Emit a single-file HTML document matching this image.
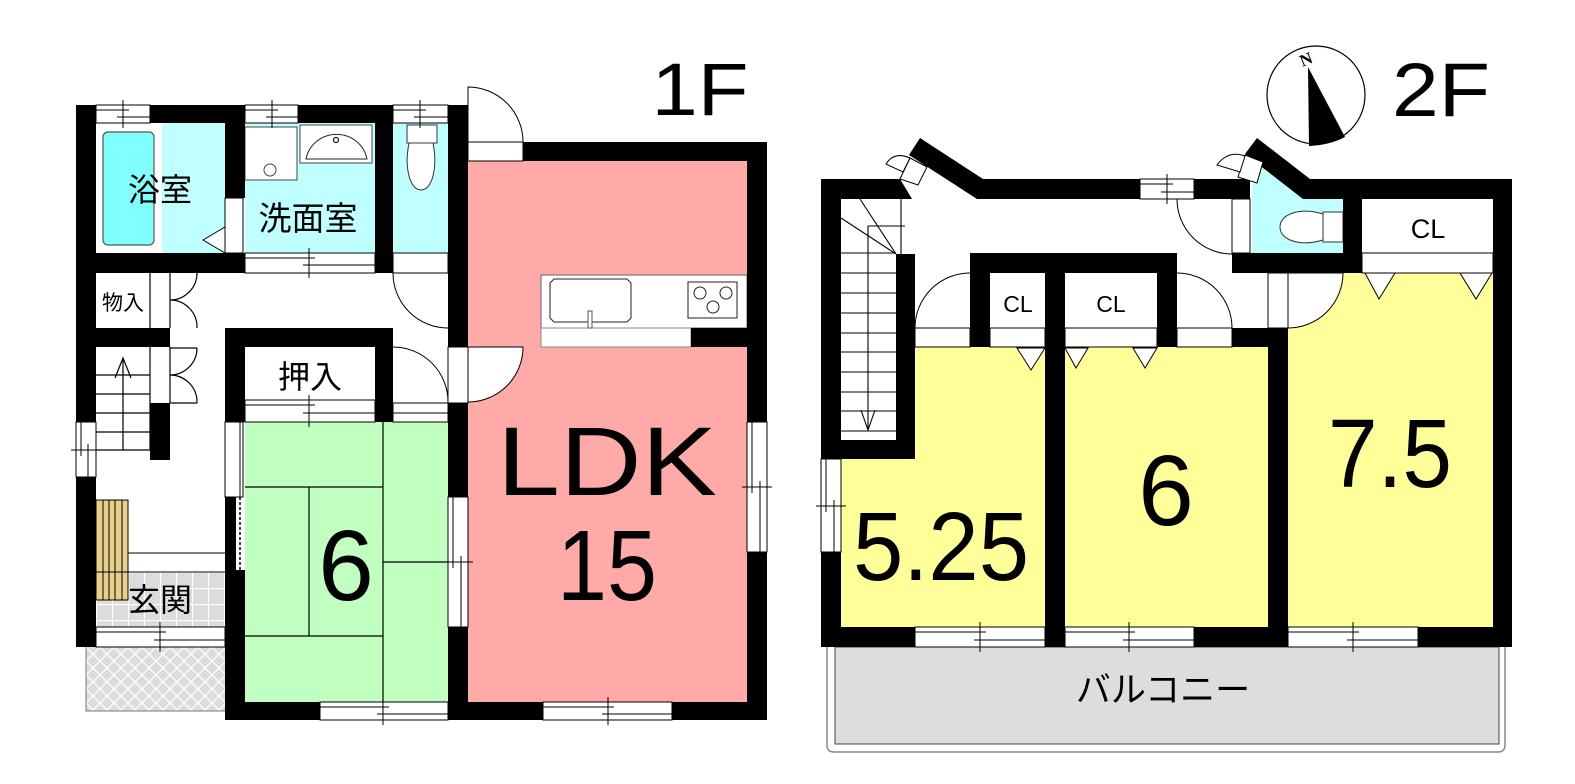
<!DOCTYPE html>
<html><head><meta charset="utf-8">
<style>
html,body{margin:0;padding:0;background:#fff;}
svg{display:block;}
text{font-family:"Liberation Sans","Noto Sans CJK JP",sans-serif;fill:#000;}
</style></head><body>
<svg width="1575" height="784" viewBox="0 0 1575 784" xmlns="http://www.w3.org/2000/svg">
<defs>
<pattern id="tile" x="96" y="572" width="16" height="16" patternUnits="userSpaceOnUse">
<rect width="16" height="16" fill="#dcdcdc"/>
<path d="M0 0.5H16M0.5 0V16" stroke="#fff" stroke-width="1.3"/>
</pattern>
<pattern id="hatch" x="86" y="647" width="14" height="14" patternUnits="userSpaceOnUse">
<rect width="14" height="14" fill="#dcdcdc"/>
<path d="M0 0L14 14M14 0L0 14" stroke="#fff" stroke-width="1.3"/>
</pattern>
</defs>

<!-- ================= 1F FILLS ================= -->
<rect x="162" y="123" width="63" height="130" fill="#c0ffff"/>
<rect x="103" y="132" width="51" height="113" rx="5" fill="#80ffff" stroke="#555" stroke-width="1.2"/>
<rect x="245" y="123" width="130" height="130" fill="#c0ffff"/>
<rect x="393" y="123" width="55" height="130" fill="#c0ffff"/>
<rect x="468" y="161" width="279" height="541" fill="#ffa9a9"/>
<rect x="245" y="422" width="203" height="280" fill="#c0ffc0"/>
<rect x="96" y="572" width="129" height="55" fill="url(#tile)"/>
<rect x="86" y="647" width="139" height="64" fill="url(#hatch)"/>
<path d="M86 647V711H225" fill="none" stroke="#777" stroke-width="1"/>

<!-- washroom fixtures -->
<rect x="245" y="127" width="52" height="53" fill="#fff" stroke="#444" stroke-width="1"/>
<circle cx="270" cy="170" r="6" fill="#fff" stroke="#444" stroke-width="1"/>
<rect x="300" y="125" width="72" height="38" fill="#fff" stroke="#444" stroke-width="1"/>
<path d="M306 159A31 30 0 0 1 367 159Z" fill="#fff" stroke="#222" stroke-width="1"/>
<circle cx="336" cy="140" r="2.5" fill="#fff" stroke="#222" stroke-width="1.3"/>
<!-- toilet 1F -->
<rect x="407" y="125" width="30" height="18" fill="#fff" stroke="#333" stroke-width="1"/>
<path d="M409 143C404 168 410 190 421 190C432 190 438 168 433 143Z" fill="#fff" stroke="#333" stroke-width="1"/>

<!-- kitchen -->
<rect x="541" y="275" width="206" height="53" fill="#fff" stroke="#666" stroke-width="1"/>
<rect x="541" y="328" width="150" height="19" fill="#fff" stroke="#888" stroke-width="1"/>
<path d="M554 279H627L631 283V318L627 322H554L550 318V283Z" fill="#fff" stroke="#222" stroke-width="1"/>
<rect x="588" y="311" width="4" height="17" fill="#fff" stroke="#555" stroke-width="1"/>
<rect x="688" y="282" width="49" height="36" fill="#fff" stroke="#222" stroke-width="1"/>
<circle cx="700" cy="293" r="6" fill="#fff" stroke="#222" stroke-width="1"/>
<circle cx="726" cy="293" r="6" fill="#fff" stroke="#222" stroke-width="1"/>
<circle cx="713" cy="307" r="6" fill="#fff" stroke="#222" stroke-width="1"/>

<!-- tatami lines -->
<g stroke="#000" stroke-width="1.2" fill="none">
<path d="M245 487H383M383 422V702M309 487V636M245 636H383M383 562H448"/>
</g>

<!-- getabako -->
<rect x="96" y="500" width="32" height="100" fill="#e8d08c" stroke="#000" stroke-width="1"/>
<path d="M103 500V600M109 500V600M115 500V600M122 500V600" stroke="#000" stroke-width="1"/>
<path d="M128 553H225M96 572H225" stroke="#000" stroke-width="1"/>

<!-- 1F stairs -->
<g stroke="#000" stroke-width="1.2" fill="none">
<path d="M96 375H150M96 394H150M96 413H150M96 432H150M96 450H150"/>
<path d="M123 358V450M115 378L123 358L131 378"/>
<path d="M150 347V450M170 347V403M150 273V328M170 273V328"/>
<path d="M170 348H197M170 403H197"/>
<path d="M197 273A27 27 0 0 1 170 300M170 300A27 27 0 0 1 197 328"/>
<path d="M197 348A27 27 0 0 1 170 375M170 375A27 27 0 0 1 197 403"/>
</g>

<!-- ================= 1F WALLS ================= -->
<g fill="#000">
<rect x="76" y="105" width="392" height="18"/>
<rect x="76" y="105" width="20" height="542"/>
<rect x="225" y="105" width="20" height="93"/>
<rect x="76" y="253" width="169" height="20"/>
<rect x="375" y="105" width="18" height="168"/>
<rect x="448" y="105" width="20" height="242"/>
<rect x="448" y="403" width="20" height="317"/>
<rect x="523" y="142" width="244" height="19"/>
<rect x="747" y="142" width="20" height="578"/>
<rect x="225" y="702" width="542" height="18"/>
<rect x="225" y="328" width="20" height="94"/>
<rect x="225" y="497" width="11" height="73"/>
<rect x="225" y="570" width="20" height="150"/>
<rect x="225" y="328" width="168" height="19"/>
<rect x="375" y="328" width="18" height="94"/>
<rect x="76" y="328" width="94" height="19"/>
<rect x="150" y="403" width="20" height="57"/>
<rect x="691" y="328" width="76" height="19"/>
</g>
<path d="M240 497V570" stroke="#000" stroke-width="1.5" stroke-dasharray="3 2"/>

<!-- 1F openings / doors -->
<g stroke="#000" stroke-width="1" fill="#fff">
<rect x="225" y="198" width="18" height="55"/>
<path d="M203 240L225 227V253Z"/>
<rect x="393" y="253" width="55" height="20"/>
<rect x="225" y="422" width="18" height="75"/>
<rect x="393" y="403" width="55" height="19"/>
<rect x="448" y="347" width="20" height="56"/>
<rect x="468" y="142" width="55" height="19"/>
<path d="M468 142V87A55 55 0 0 1 523 142Z"/>
<path d="M468 347H523A55 55 0 0 1 468 402Z"/>
</g>
<g stroke="#000" stroke-width="1" fill="none">
<path d="M240 422V497M393 413H448"/>
<path d="M393 273A55 55 0 0 0 448 328"/>
<path d="M393 347A55 55 0 0 1 448 403"/>
</g>

<!-- 1F windows (horizontal) -->
<g stroke="#000" stroke-width="1" fill="#fff">
<rect x="96" y="105" width="54" height="18"/><path d="M96 110H129M117 117H150M123 100V128" fill="none"/>
<rect x="245" y="105" width="53" height="18"/><path d="M245 110H278M266 117H298M272 100V128" fill="none"/>
<rect x="393" y="105" width="55" height="18"/><path d="M393 110H426M414 117H448M420 100V128" fill="none"/>
<rect x="245" y="253" width="130" height="20"/><path d="M245 258H315M303 265H375M309 248V278" fill="none"/>
<rect x="245" y="400" width="130" height="22"/><path d="M245 405H315M303 413H375M309 395V427" fill="none"/>
<rect x="320" y="702" width="128" height="18"/><path d="M320 707H389M377 714H448M383 697V725" fill="none"/>
<rect x="543" y="702" width="129" height="18"/><path d="M543 707H614M602 714H672M608 697V725" fill="none"/>
<rect x="96" y="627" width="129" height="20"/><path d="M96 632H166M154 640H225M160 622V652" fill="none"/>
<!-- vertical windows -->
<rect x="76" y="422" width="20" height="55"/><path d="M81 422V456M88 444V477M71 450H101" fill="none"/>
<rect x="747" y="422" width="20" height="130"/><path d="M752 422V493M760 481V552M742 487H772" fill="none"/>
<rect x="448" y="497" width="20" height="130"/><path d="M453 497V568M461 556V627M443 562H473" fill="none"/>
</g>

<!-- ================= 2F FILLS ================= -->
<path d="M915 347H1045V627H841V459H915Z" fill="#ffff99"/>
<rect x="1065" y="347" width="203" height="280" fill="#ffff99"/>
<rect x="1288" y="273" width="205" height="354" fill="#ffff99"/>
<path d="M1252 253V187L1262 168L1303 199H1343V253Z" fill="#c0ffff"/>
<!-- balcony -->
<path d="M827 647V745Q827 752 834 752H1498Q1505 752 1505 745V647" fill="none" stroke="#888" stroke-width="1.5"/>
<rect x="835" y="647" width="664" height="97" fill="#dddddd" stroke="#444" stroke-width="1"/>

<!-- 2F stairs -->
<g stroke="#000" stroke-width="1.1" fill="none">
<path d="M841 253H896M841 273H896M841 293H896M841 313H896M841 333H896M841 352H896M841 372H896M841 392H896M841 411H896M841 431H896"/>
<path d="M860 199L896 254M841 218L896 254M901 199V254M868 226H905M868 226V430M861 410L868 430L875 410"/>
</g>

<!-- closets interior lines -->
<g stroke="#000" stroke-width="1" fill="#fff">
<rect x="990" y="328" width="55" height="19"/>
<rect x="1065" y="328" width="92" height="19"/>
<rect x="1362" y="253" width="131" height="20"/>
<rect x="915" y="328" width="55" height="19"/>
<rect x="1177" y="328" width="55" height="19"/>
<rect x="1232" y="199" width="18" height="54"/>
<rect x="1268" y="273" width="20" height="55"/>
<path d="M1288 273H1343A55 55 0 0 1 1288 328Z"/>
<path d="M1017 348H1045L1031 370Z"/>
<path d="M1065 348H1088L1076 368Z"/>
<path d="M1133 348H1157L1145 368Z"/>
<path d="M1365 273H1395L1379 299Z"/>
<path d="M1460 273H1492L1476 299Z"/>
</g>
<g stroke="#000" stroke-width="1" fill="none">
<path d="M915 328A55 55 0 0 1 970 273"/>
<path d="M1177 273A55 55 0 0 1 1232 328"/>
<path d="M1177 199A55 55 0 0 0 1232 254"/>
</g>

<!-- toilet 2F -->
<rect x="1323" y="212" width="20" height="30" fill="#fff" stroke="#333" stroke-width="1"/>
<path d="M1323 214C1300 207 1280 214 1280 227C1280 240 1300 247 1323 240Z" fill="#fff" stroke="#333" stroke-width="1"/>

<!-- ================= 2F WALLS ================= -->
<g fill="#000">
<rect x="821" y="179" width="20" height="468"/>
<path d="M821 179H900L912 199H821Z"/>
<path d="M920 138L983 179H1140V199H977L909 155Z"/>
<rect x="1194" y="179" width="56" height="20"/>
<path d="M1257 138L1310 179H1512V199H1303L1245 154Z"/>
<rect x="1493" y="179" width="19" height="468"/>
<rect x="821" y="627" width="691" height="20"/>
<rect x="896" y="254" width="19" height="205"/>
<rect x="821" y="440" width="94" height="19"/>
<rect x="970" y="253" width="207" height="20"/>
<rect x="970" y="253" width="20" height="94"/>
<rect x="1045" y="253" width="20" height="394"/>
<rect x="1157" y="253" width="20" height="94"/>
<rect x="1232" y="328" width="56" height="19"/>
<rect x="1268" y="328" width="20" height="319"/>
<rect x="1232" y="253" width="130" height="20"/>
<rect x="1343" y="179" width="19" height="94"/>
</g>

<!-- entry doors 2F -->
<g stroke="#000" stroke-width="1" fill="#fff">
<path d="M910 158L927 167L918 185L900 179Z"/>
<path d="M886 164Q894 151 910 158L903 172Z"/>
<path d="M1245 155L1263 162L1257 183L1238 177Z"/>
<path d="M1217 165Q1228 150 1245 156L1240 172Z"/>
</g>

<!-- 2F windows -->
<g stroke="#000" stroke-width="1" fill="#fff">
<rect x="1140" y="179" width="54" height="20"/><path d="M1140 184H1173M1161 192H1194M1167 174V204" fill="none"/>
<rect x="915" y="627" width="130" height="20"/><path d="M915 632H986M974 640H1045M980 622V652" fill="none"/>
<rect x="1065" y="627" width="129" height="20"/><path d="M1065 632H1135M1123 640H1194M1129 622V652" fill="none"/>
<rect x="1288" y="627" width="130" height="20"/><path d="M1288 632H1359M1347 640H1418M1353 622V652" fill="none"/>
<rect x="821" y="459" width="20" height="93"/><path d="M826 459V512M834 500V552M816 506H846" fill="none"/>
</g>

<!-- compass -->
<circle cx="1316" cy="95" r="49" fill="#fff" stroke="#000" stroke-width="1.2"/>
<path d="M1308 67L1345 137Q1330 145 1309 146Z" fill="#000"/>
<text x="1306" y="65" font-family="Liberation Serif" font-weight="bold" font-size="17" text-anchor="middle" transform="rotate(-22 1306 59)" style="font-family:'Liberation Serif',serif">N</text>

<!-- ================= LABELS ================= -->
<text x="700" y="115" font-size="74" text-anchor="middle" textLength="97" lengthAdjust="spacingAndGlyphs">1F</text>
<text x="1441" y="116" font-size="76" text-anchor="middle" textLength="98" lengthAdjust="spacingAndGlyphs">2F</text>

<text x="160" y="201" font-size="32" text-anchor="middle">浴室</text>
<text x="308" y="230" font-size="33" text-anchor="middle">洗面室</text>
<text x="123" y="310" font-size="21" text-anchor="middle">物入</text>
<text x="310" y="388" font-size="32" text-anchor="middle">押入</text>
<text x="160" y="611" font-size="32" text-anchor="middle">玄関</text>
<text x="1163" y="702" font-size="35" text-anchor="middle">バルコニー</text>

<text x="1018" y="312" font-size="23" text-anchor="middle">CL</text>
<text x="1111" y="312" font-size="23" text-anchor="middle">CL</text>
<text x="1428" y="238" font-size="27" text-anchor="middle">CL</text>

<text x="346" y="600" font-size="100" text-anchor="middle">6</text>
<text x="607" y="495" font-size="97" text-anchor="middle" textLength="220" lengthAdjust="spacingAndGlyphs">LDK</text>
<text x="607" y="600" font-size="100" text-anchor="middle" textLength="100" lengthAdjust="spacingAndGlyphs">15</text>
<text x="941" y="580" font-size="97" text-anchor="middle" textLength="176" lengthAdjust="spacingAndGlyphs">5.25</text>
<text x="1166" y="525" font-size="100" text-anchor="middle">6</text>
<text x="1390" y="487" font-size="97" text-anchor="middle" textLength="124" lengthAdjust="spacingAndGlyphs">7.5</text>
</svg>
</body></html>
